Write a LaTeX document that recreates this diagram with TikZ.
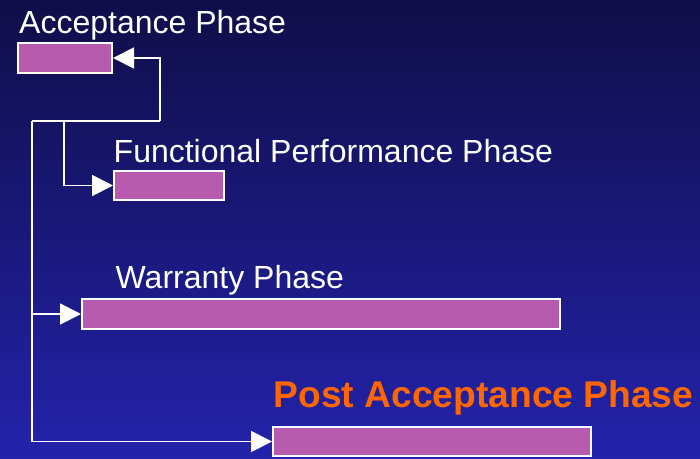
\documentclass[tikz,border=0pt]{standalone}
\usepackage{fontspec}
\setmainfont{Liberation Sans}
\usetikzlibrary{arrows.meta}
\definecolor{bgtop}{HTML}{100E48}
\definecolor{bgbot}{HTML}{2323AB}
\definecolor{boxfill}{HTML}{B85AAE}
\definecolor{posttext}{HTML}{FF6600}
\begin{document}
\begin{tikzpicture}[x=1pt,y=-1pt,
  phasebox/.style={draw=white, line width=2pt, fill=boxfill, inner sep=0pt, anchor=north west},
  flow/.style={draw=white, line width=1.9pt, -{Triangle[length=21pt,width=21pt]}},
  link/.style={draw=white, line width=1.9pt},
  label/.style={text=white, inner sep=0pt, anchor=base west, font=\fontsize{32}{32}\selectfont}]
  % background
  \shade[top color=bgtop, bottom color=bgbot] (0,0) rectangle (700,458);
  \useasboundingbox (0,0) rectangle (700,458);

  % phase labels
  \node[label] (accl) at (19,33) {Acceptance Phase};
  \node[label] (fpl) at (113.5,162) {Functional Performance Phase};
  \node[label] (warl) at (115.5,288) {Warranty Phase};
  \node[inner sep=0pt, anchor=base west, text=posttext,
        font=\fontsize{37.2}{37.2}\selectfont\bfseries] (postl) at (273.5,407) {Post Acceptance Phase};

  % phase bars
  \node[phasebox, minimum width=94pt, minimum height=30pt] (acc) at (17,42) {};
  \node[phasebox, minimum width=110pt, minimum height=29pt] (fp) at (113,170) {};
  \node[phasebox, minimum width=478pt, minimum height=30pt] (war) at (81,298) {};
  \node[phasebox, minimum width=318pt, minimum height=29pt] (post) at (272,426) {};

  % junctions of the connector tree
  \coordinate (top) at (32,121);
  \coordinate (hub) at (64,121);
  \coordinate (rc) at (160,121);

  % connectors
  \draw[link] (top) -- (rc);
  \draw[flow] (rc) |- (acc.east);
  \draw[flow] (hub) |- (fp.west);
  \draw[flow] (war.west -| top) -- (war.west);
  \draw[flow] (top) |- (post.west);
\end{tikzpicture}
\end{document}
